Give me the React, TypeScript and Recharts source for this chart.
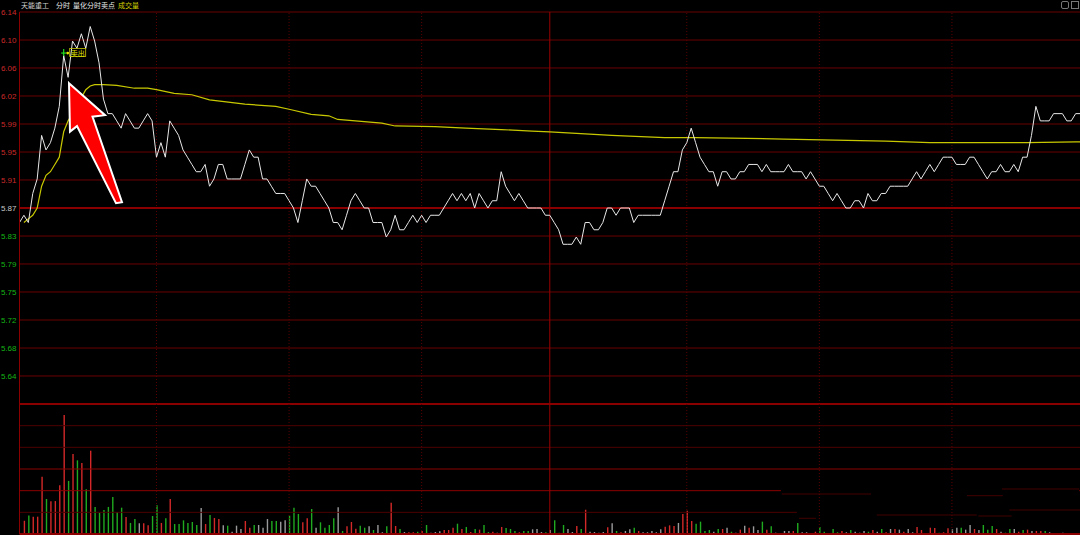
import React from 'react';
import { ComposedChart, Line, Bar, Cell, XAxis, YAxis, CartesianGrid, ReferenceLine, ReferenceDot } from 'recharts';

// minute-by-minute last price (index 0 .. 241)
const PRICE = [
  5.85, 5.86, 5.85, 5.89, 5.91, 5.97, 5.95, 5.96, 5.98, 6.01,
  6.08, 6.05, 6.10, 6.09, 6.11, 6.09, 6.12, 6.10, 6.07, 6.02,
  6.00, 6.00, 5.99, 5.98, 6.00, 5.99, 5.98, 5.98, 5.99, 6.00,
  5.99, 5.94, 5.96, 5.94, 5.99, 5.98, 5.97, 5.95, 5.94, 5.93,
  5.92, 5.92, 5.93, 5.90, 5.91, 5.93, 5.93, 5.91, 5.91, 5.91,
  5.91, 5.93, 5.95, 5.94, 5.94, 5.91, 5.91, 5.90, 5.89, 5.89,
  5.89, 5.88, 5.87, 5.85, 5.88, 5.91, 5.90, 5.90, 5.89, 5.88,
  5.87, 5.85, 5.85, 5.84, 5.86, 5.88, 5.89, 5.88, 5.87, 5.87,
  5.85, 5.85, 5.85, 5.83, 5.84, 5.86, 5.84, 5.84, 5.85, 5.86,
  5.85, 5.86, 5.85, 5.86, 5.86, 5.86, 5.87, 5.88, 5.89, 5.88,
  5.89, 5.88, 5.89, 5.87, 5.89, 5.88, 5.87, 5.88, 5.88, 5.92,
  5.90, 5.89, 5.88, 5.89, 5.88, 5.87, 5.87, 5.87, 5.87, 5.86,
  5.86, 5.85, 5.84, 5.82, 5.82, 5.82, 5.83, 5.82, 5.85, 5.85,
  5.84, 5.84, 5.85, 5.87, 5.87, 5.86, 5.87, 5.87, 5.87, 5.85,
  5.86, 5.86, 5.86, 5.86, 5.86, 5.86, 5.88, 5.90, 5.92, 5.92,
  5.95, 5.96, 5.98, 5.96, 5.94, 5.93, 5.92, 5.92, 5.90, 5.92,
  5.92, 5.91, 5.91, 5.92, 5.92, 5.93, 5.93, 5.93, 5.92, 5.93,
  5.92, 5.92, 5.92, 5.92, 5.93, 5.92, 5.92, 5.92, 5.91, 5.92,
  5.91, 5.90, 5.90, 5.89, 5.88, 5.89, 5.88, 5.87, 5.87, 5.88,
  5.88, 5.87, 5.89, 5.88, 5.88, 5.89, 5.89, 5.90, 5.90, 5.90,
  5.90, 5.90, 5.91, 5.92, 5.91, 5.92, 5.93, 5.92, 5.93, 5.94,
  5.94, 5.94, 5.93, 5.93, 5.93, 5.94, 5.94, 5.93, 5.92, 5.91,
  5.92, 5.92, 5.93, 5.92, 5.92, 5.93, 5.92, 5.94, 5.94, 5.97,
  6.01, 5.99, 5.99, 5.99, 6.00, 6.00, 6.00, 5.99, 5.99, 6.00,
  6.00, 6.00,
];

// average price line, read at the points where it bends [index, price]
const AVG_POINTS: [number, number][] = [
  [1, 5.85], [2, 5.855], [3, 5.86], [4, 5.87], [5, 5.9], [6, 5.915], [7, 5.92], [8, 5.93],
  [9, 5.94], [10, 5.975], [11, 5.99], [12, 6.0], [13, 6.012], [14, 6.022], [15, 6.033],
  [16, 6.038], [17, 6.04], [19, 6.04], [22, 6.039], [26, 6.035], [29, 6.035], [31, 6.033],
  [35, 6.028], [39, 6.026], [43, 6.019], [51, 6.013], [58, 6.01], [61, 6.006], [66, 5.999],
  [70, 5.997], [72, 5.992], [82, 5.987], [85, 5.983], [94, 5.982], [101, 5.98], [109, 5.978],
  [116, 5.976], [120, 5.975], [128, 5.972], [134, 5.97], [146, 5.967], [153, 5.967],
  [173, 5.965], [196, 5.962], [206, 5.96], [228, 5.96], [239, 5.961], [241, 5.961],
];

// volume per minute
const VOL = [
  0, 610, 850, 800, 800, 2640, 1615, 1510, 1520, 2250,
  5490, 2450, 3690, 3400, 3280, 2060, 3845, 1250, 985, 1110,
  1250, 1710, 1015, 1215, 785, 510, 690, 495, 495, 400,
  830, 1325, 510, 725, 1615, 460, 460, 630, 510, 555,
  415, 1200, 460, 875, 740, 690, 400, 385, 105, 385,
  230, 600, 290, 415, 415, 290, 690, 600, 600, 570,
  630, 845, 1215, 925, 540, 725, 1155, 290, 540, 290,
  415, 725, 1230, 140, 355, 555, 245, 385, 290, 355,
  185, 415, 80, 355, 1445, 370, 230, 90, 80, 80,
  105, 140, 415, 60, 90, 125, 185, 185, 290, 475,
  230, 325, 90, 230, 200, 415, 90, 105, 60, 325,
  275, 230, 140, 80, 140, 140, 215, 230, 90, 80,
  185, 630, 60, 415, 230, 90, 370, 230, 1120, 105,
  90, 60, 90, 310, 495, 140, 80, 140, 215, 290,
  140, 80, 80, 140, 80, 215, 335, 400, 370, 510,
  925, 1075, 600, 475, 570, 140, 185, 105, 230, 230,
  290, 105, 60, 200, 385, 290, 355, 185, 570, 200,
  355, 60, 30, 140, 140, 140, 510, 80, 80, 30,
  105, 325, 105, 30, 230, 80, 140, 80, 185, 105,
  60, 140, 105, 185, 105, 230, 80, 230, 230, 200,
  105, 230, 80, 325, 185, 30, 290, 275, 60, 80,
  265, 215, 290, 290, 200, 415, 230, 185, 415, 200,
  370, 230, 105, 60, 230, 230, 105, 185, 200, 140,
  140, 140, 140, 80, 30, 30, 60, 30, 15, 30,
  30, 30,
];

// bar direction per minute: u = up (red), d = down (green), e = unchanged (grey)
const DIR = [
  'euduuuduuu', 'ududududdd', 'dddduddeuu', 'ddududdddd', 'deuduuedee',
  'euudeeedde', 'eddduudedd', 'ddeduuudde', 'deeduudeuu', 'dudeeeuuud',
  'udududdueu', 'ddduddeeed', 'edddeeudue', 'eeeuedueed', 'ueeeeeuuue',
  'uuuddddedu', 'edeueueedu', 'deeeeudeee', 'uddedduede', 'eeduedueue',
  'ueeuueuudu', 'ueedeeuedd', 'dueddeudue', 'uudeeeeeee', 'ee',
].join('').split('');

const PRICE_TICKS = [5.6, 5.6386, 5.6771, 5.7157, 5.7543, 5.7929, 5.8314, 5.87, 5.9086, 5.9471, 5.9857, 6.0243, 6.0629, 6.1014, 6.14];
const PRICE_LABELS = ['', '5.64', '5.68', '5.72', '5.75', '5.79', '5.83', '5.87', '5.91', '5.95', '5.99', '6.02', '6.06', '6.10', '6.14'];
const PREV_CLOSE = 5.87;
const VOL_TICKS = [0, 1000, 2000, 3000, 4000, 5000, 6000];
const HALF_HOURS = [31, 61, 91, 151, 181, 211];
const NOON = 120;
const SELL = { i: 10, price: 6.08, text: '卖出' };
const ARROW_TIP = { i: 11.2, price: 6.042 };
const TITLE = [
  { text: '天能重工', color: '#cfcfcf' },
  { text: '分时', color: '#e8e8e8' },
  { text: '量化分时卖点', color: '#e8e8e8' },
  { text: '成交量', color: '#d2d200' },
];

const rows = PRICE.map((p, i) => {
  const a = AVG_POINTS.find((pt) => pt[0] === i);
  return { i, price: p, avg: a ? a[1] : null, vol: VOL[i], dir: DIR[i] };
});

const W = 1090;
const MARGIN = { top: 12, right: 5.5, bottom: 2, left: 0 };
const GRID = '#6a0000';
const GRID_BRIGHT = '#8a0000';
const BAR_COLORS: Record<string, string> = { u: '#d42828', d: '#1faa1f', e: '#9a9a9a' };

const PriceTick = (props: any) => {
  const { x, y, payload } = props;
  const idx = PRICE_TICKS.indexOf(payload.value);
  const v = payload.value;
  const color = Math.abs(v - PREV_CLOSE) < 0.001 ? '#c8c8c8' : v > PREV_CLOSE ? '#cc2a2a' : '#14b414';
  return (
    <text x={x} y={y} dy={3} textAnchor="end" fill={color} fontSize={8} fontFamily="Liberation Sans, Arial, sans-serif">
      {PRICE_LABELS[idx] ?? ''}
    </text>
  );
};

const SellMark = (props: any) => {
  const { cx, cy } = props;
  const y = cy - 2.5;
  return (
    <g>
      <line x1={cx - 2.5} x2={cx + 2.5} y1={y} y2={y} stroke="#22dd22" strokeWidth={1.2} />
      <line x1={cx} x2={cx} y1={y - 4} y2={y + 3} stroke="#22dd22" strokeWidth={1.2} />
      <circle cx={cx + 4} cy={y} r={1.4} fill="#e6e600" />
      <rect x={cx + 6} y={y - 4.5} width={16} height={8} fill="none" stroke="#c8c800" strokeWidth={0.8} />
      <text x={cx + 14} y={y + 2.5} textAnchor="middle" fill="#e6e600" fontSize={7} fontFamily="Noto Sans CJK SC, sans-serif">
        {SELL.text}
      </text>
    </g>
  );
};

const ArrowMark = (props: any) => {
  const { cx, cy } = props;
  const pts = [
    [0, 0], [36, 32], [23.5, 33.5], [53, 119], [47, 120], [8, 43], [1, 48.5],
  ].map(([dx, dy]) => `${cx + dx},${cy + dy}`).join(' ');
  return <polygon points={pts} fill="#ff0000" stroke="#ffffff" strokeWidth={2} strokeLinejoin="miter" />;
};

// broken-up volume grid pieces on the right side of the picture
const VOL_SEGMENTS = [
  { from: 172.5, to: 192.7, v: 1846 },
  { from: 214.4, to: 222.5, v: 1768 },
  { from: 222.3, to: 239.8, v: 2077 },
  { from: 176.4, to: 180.2, v: 725 },
  { from: 194, to: 216.6, v: 877 },
  { from: 217, to: 224.5, v: 831 },
  { from: 224, to: 241, v: 1108 },
];

export default function App() {
  return (
    <div style={{ position: 'fixed', top: 0, left: 0, width: 1080, height: 535, overflow: 'hidden', background: '#000' }}>
      <div style={{ position: 'absolute', top: 0, left: 21, fontSize: 7, lineHeight: '10px', fontFamily: 'Noto Sans CJK SC, sans-serif', whiteSpace: 'nowrap' }}>
        {TITLE.map((t, k) => (
          <span key={k} style={{ color: t.color, marginRight: k === 0 ? 7 : 3 }}>{t.text}</span>
        ))}
      </div>
      <div style={{ position: 'absolute', top: 1, left: 1061, width: 6, height: 6, border: '1px solid #777', borderRadius: 2 }} />
      <div style={{ position: 'absolute', top: 1, left: 1071, width: 6, height: 6, border: '1px solid #777' }} />

      <div style={{ position: 'absolute', top: 0, left: 0 }}>
        <ComposedChart width={W} height={406} data={rows} margin={MARGIN}>
          <CartesianGrid vertical={false} stroke={GRID} />
          <XAxis type="number" dataKey="i" domain={[0, 241]} hide />
          <YAxis
            domain={[5.6, 6.14]}
            ticks={PRICE_TICKS}
            interval={0}
            width={19.5}
            tickLine={false}
            tickSize={0}
            tickMargin={3}
            axisLine={{ stroke: GRID_BRIGHT }}
            tick={PriceTick}
            allowDataOverflow
          />
          {HALF_HOURS.map((h) => (
            <ReferenceLine key={h} x={h} stroke="#5a0000" strokeDasharray="1 2" />
          ))}
          <ReferenceLine x={NOON} stroke="#9a0000" />
          <ReferenceLine y={PREV_CLOSE} stroke={GRID_BRIGHT} strokeWidth={2} />
          <Line dataKey="avg" stroke="#c8c800" strokeWidth={1.2} dot={false} connectNulls isAnimationActive={false} />
          <Line dataKey="price" stroke="#e8e8e8" strokeWidth={1} dot={false} isAnimationActive={false} />
          <ReferenceDot x={SELL.i} y={SELL.price} shape={SellMark} />
          <ReferenceDot x={ARROW_TIP.i} y={ARROW_TIP.price} shape={ArrowMark} />
        </ComposedChart>
      </div>

      <div style={{ position: 'absolute', top: 403, left: 0 }}>
        <ComposedChart width={W} height={132} data={rows} margin={{ top: 1, right: 5.5, bottom: 1, left: 0 }}>
          <XAxis type="number" dataKey="i" domain={[0, 241]} hide />
          <YAxis domain={[0, 6000]} ticks={VOL_TICKS} width={19.5} tick={false} tickLine={false} axisLine={{ stroke: GRID_BRIGHT }} />
          <ReferenceLine y={6000} stroke={GRID_BRIGHT} strokeWidth={2} />
          <ReferenceLine y={5000} stroke="#4e0000" />
          <ReferenceLine y={4000} stroke="#4e0000" />
          <ReferenceLine y={3000} stroke={GRID_BRIGHT} />
          <ReferenceLine segment={[{ x: 0, y: 2000 }, { x: 172.3, y: 2000 }]} stroke={GRID_BRIGHT} />
          <ReferenceLine segment={[{ x: 239.8, y: 2000 }, { x: 241, y: 2000 }]} stroke={GRID_BRIGHT} />
          <ReferenceLine segment={[{ x: 0, y: 1000 }, { x: 175.9, y: 1000 }]} stroke="#4e0000" />
          {VOL_SEGMENTS.map((s, k) => (
            <ReferenceLine key={k} segment={[{ x: s.from, y: s.v }, { x: s.to, y: s.v }]} stroke="#440000" />
          ))}
          <ReferenceLine y={0} stroke={GRID_BRIGHT} strokeWidth={2} />
          {HALF_HOURS.map((h) => (
            <ReferenceLine key={h} x={h} stroke="#5a0000" strokeDasharray="1 2" />
          ))}
          <ReferenceLine x={NOON} stroke="#9a0000" />
          <Bar dataKey="vol" barSize={1.4} isAnimationActive={false}>
            {rows.map((r) => (
              <Cell key={r.i} fill={BAR_COLORS[r.dir] ?? BAR_COLORS.e} />
            ))}
          </Bar>
        </ComposedChart>
      </div>
    </div>
  );
}
